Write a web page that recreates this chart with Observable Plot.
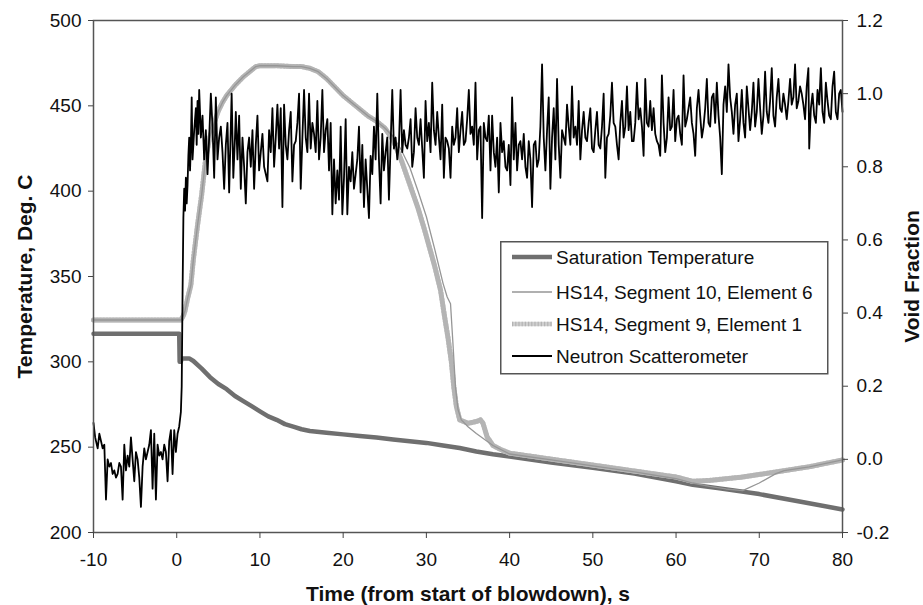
<!DOCTYPE html>
<html>
<head>
<meta charset="utf-8">
<script src="https://cdn.jsdelivr.net/npm/d3@7"></script>
<script src="https://cdn.jsdelivr.net/npm/@observablehq/plot@0.6"></script>
<style>
  html, body { margin: 0; padding: 0; background: #fff; }
  #wrap { position: relative; width: 923px; height: 605px; overflow: hidden; font-family: "Liberation Sans", Arial, sans-serif; }
  #legend { position: absolute; left: 500px; top: 241px; }
</style>
</head>
<body>
<div id="wrap"><div id="chart"></div><svg id="legend" width="329" height="134"></svg></div>
<script>
// ---- axis definitions ----
const xTicks = [-10, 0, 10, 20, 30, 40, 50, 60, 70, 80];
const tempTicks = [200, 250, 300, 350, 400, 450, 500];
const vfTicks = [-0.2, 0.0, 0.2, 0.4, 0.6, 0.8, 1.0, 1.2];
const xTitle = "Time (from start of blowdown), s";
const yTitle = "Temperature, Deg. C";
const y2Title = "Void Fraction";
const legendLabels = ["Saturation Temperature", "HS14, Segment 10, Element 6", "HS14, Segment 9, Element 1", "Neutron Scatterometer"];

// ---- Saturation temperature (deg C) ----
const satTime = [-10, 0.3, 0.35, 0.5, 0.55, 0.6, 1.5, 2, 3, 4, 5, 6, 7, 8, 9, 10, 11, 12, 13, 14, 15, 16, 18, 20, 22, 24, 26, 28, 30, 32, 34, 36, 38, 40, 45, 50, 55, 60, 62, 65, 70, 75, 80];
const satTemp = [316.5, 316.5, 300, 300, 302, 302, 302, 300.5, 296, 291, 287, 284, 280, 277, 274, 271, 268, 266, 263.5, 262, 260.5, 259.5, 258.5, 257.5, 256.5, 255.7, 254.5, 253.5, 252.5, 251, 249.5, 247.5, 245.8, 244.5, 241, 238, 234.5, 230, 228, 226, 222.5, 218, 213.5];

// ---- HS14, Segment 9, Element 1 (deg C) ----
const seg9Time = [-10, 0.5, 0.8, 1.0, 1.3, 1.7, 2.0, 2.5, 3.0, 3.5, 4.0, 4.5, 5.0, 5.5, 6.0, 7, 8, 9, 9.5, 10, 12, 14, 15, 16, 17, 18, 19, 20, 21, 22, 23, 24, 25, 26, 27, 28, 29, 29.8, 31, 31.7, 32.2, 32.6, 33.0, 33.3, 33.6, 34.0, 35.0, 35.5, 36.0, 36.5, 36.8, 37.3, 38, 39, 40, 45, 50, 55, 60, 62, 64, 66, 68, 70, 72, 74, 76, 78, 80];
const seg9Temp = [324.5, 324.5, 327, 330, 337, 345, 360, 380, 398, 420, 432, 440, 447, 452, 456, 462, 467, 471, 473, 473.5, 473.5, 473, 473, 472, 470, 466, 461, 456, 452, 448, 444, 441, 437, 430, 418, 404, 390, 377, 356, 342, 326, 314, 300, 285, 274, 266, 264, 264.5, 265, 266, 264, 256, 251, 248.5, 246.5, 243, 239.5, 236, 232.5, 230, 230.5, 231.5, 232.5, 234, 235.5, 237, 238.5, 240.5, 242.5];

// ---- HS14, Segment 10, Element 6 (deg C) ----
const seg10Time = [-10, 0.5, 0.8, 1.0, 1.3, 1.7, 2.0, 2.5, 3.0, 3.5, 4.0, 4.5, 5.0, 5.5, 6.0, 7, 8, 9, 9.5, 10, 12, 14, 15, 16, 17, 18, 19, 20, 21, 22, 23, 24, 25, 26, 26.5, 27, 28, 29, 30, 31, 32, 32.5, 32.9, 33.2, 33.5, 33.8, 34.2, 35, 36, 37, 38, 39, 40, 45, 50, 55, 60, 62, 64, 66, 68, 70, 72, 73, 74, 76, 78, 80];
const seg10Temp = [324.5, 324.5, 327, 330, 337, 345, 360, 380, 398, 420, 432, 440, 447, 452, 456, 462, 467, 471, 473, 473.5, 473.5, 473, 473, 472, 470, 466, 461, 456, 452, 448, 444, 441, 437, 432, 428, 424, 414, 400, 385, 366, 346, 338, 334, 310, 285, 272, 266, 262, 258, 254.5, 251, 248.5, 246, 242.5, 239, 235.5, 231.5, 229, 227, 225.5, 224.5, 229, 234.5, 236.2, 237, 238.5, 240.5, 242.5];

// ---- Neutron scatterometer (void fraction) ----
const neutronTime = [
-10.0,-9.8,-9.5,-9.3,-9.1,-8.9,-8.7,-8.5,-8.3,-8.1,-7.9,-7.7,-7.5,-7.3,-7.1,-6.9,-6.7,-6.5,-6.3,-6.1,
-5.9,-5.7,-5.5,-5.3,-5.1,-4.9,-4.7,-4.5,-4.3,-4.1,-3.9,-3.7,-3.5,-3.3,-3.1,-2.9,-2.7,-2.5,-2.3,-2.1,
-1.9,-1.7,-1.5,-1.3,-1.1,-0.9,-0.7,-0.5,-0.3,-0.1,0.1,0.3,0.5,0.6,0.7,0.8,0.9,1.0,1.1,1.2,
1.3,1.4,1.5,1.6,1.7,1.8,1.9,2.1,2.3,2.4,2.5,2.6,2.7,2.8,2.9,3.1,3.3,3.5,3.7,3.9,
4.1,4.3,4.5,4.7,4.9,5.1,5.3,5.5,5.7,5.9,6.1,6.3,6.6,6.8,7.0,7.1,7.3,7.5,7.7,7.9,
8.1,8.3,8.5,8.7,8.9,9.1,9.3,9.5,9.7,9.9,10.1,10.3,10.5,10.9,11.1,11.3,11.5,11.7,11.9,12.1,
12.3,12.5,12.7,12.9,13.1,13.3,13.5,13.7,13.9,14.1,14.3,14.5,14.7,14.9,15.1,15.3,15.5,15.7,15.9,16.1,
16.3,16.5,16.7,16.9,17.1,17.3,17.5,17.7,17.9,18.1,18.3,18.5,18.7,18.9,19.1,19.3,19.5,19.7,19.9,20.1,
20.3,20.5,20.7,20.9,21.1,21.3,21.5,21.7,21.9,22.1,22.3,22.5,22.7,22.9,23.1,23.3,23.5,23.7,23.9,24.1,
24.3,24.5,24.7,24.9,25.1,25.3,25.5,25.7,25.9,26.1,26.3,26.5,26.7,26.9,27.1,27.3,27.5,27.7,27.9,28.1,
28.3,28.5,28.7,28.9,29.1,29.3,29.5,29.7,29.9,30.1,30.3,30.5,30.7,30.9,31.1,31.3,31.5,31.7,31.9,32.1,
32.3,32.5,32.7,32.9,33.1,33.3,33.5,33.7,33.9,34.1,34.3,34.5,34.7,34.9,35.1,35.3,35.5,35.7,35.9,36.1,
36.3,36.5,36.7,36.9,37.1,37.3,37.5,37.7,37.9,38.1,38.3,38.5,38.7,38.9,39.1,39.3,39.5,39.7,39.9,40.1,
40.3,40.5,40.7,40.9,41.1,41.3,41.5,41.7,41.9,42.1,42.3,42.5,42.7,42.9,43.1,43.3,43.5,43.7,43.9,44.1,
44.3,44.5,44.7,44.9,45.1,45.3,45.5,45.7,45.9,46.1,46.3,46.5,46.7,46.9,47.1,47.3,47.5,47.7,47.9,48.1,
48.3,48.5,48.7,48.9,49.1,49.3,49.5,49.7,49.9,50.1,50.3,50.5,50.7,50.9,51.1,51.3,51.5,51.7,51.9,52.1,
52.3,52.5,52.7,52.9,53.1,53.3,53.5,53.7,53.9,54.1,54.3,54.5,54.7,54.9,55.1,55.3,55.5,55.7,55.9,56.1,
56.3,56.5,56.7,56.9,57.1,57.3,57.5,57.7,57.9,58.1,58.3,58.5,58.7,58.9,59.1,59.3,59.5,59.7,59.9,60.1,
60.3,60.5,60.7,60.9,61.1,61.3,61.5,61.7,61.9,62.1,62.3,62.5,62.7,62.9,63.1,63.3,63.5,63.7,63.9,64.1,
64.3,64.5,64.7,64.9,65.1,65.3,65.5,65.7,65.9,66.1,66.3,66.5,66.7,66.9,67.1,67.3,67.5,67.7,67.9,68.1,
68.3,68.5,68.7,68.9,69.1,69.3,69.5,69.7,69.9,70.1,70.3,70.5,70.7,70.9,71.1,71.3,71.5,71.7,71.9,72.1,
72.3,72.5,72.7,72.9,73.1,73.3,73.5,73.7,73.9,74.1,74.3,74.5,74.7,74.9,75.1,75.3,75.5,75.7,75.9,76.0,
76.2,76.4,76.6,76.8,77.0,77.2,77.4,77.6,77.8,78.0,78.2,78.4,78.6,78.8,79.0,79.2,79.4,79.6,79.8,80.0];
const neutronVF = [
0.10,0.06,0.03,0.07,0.05,0.03,0.04,-0.11,0.00,-0.02,-0.01,-0.04,-0.03,-0.05,-0.04,-0.01,-0.02,-0.11,0.04,-0.03,
0.01,-0.02,0.06,0.00,-0.06,0.02,0.00,-0.05,-0.13,-0.02,0.03,0.00,0.02,0.04,0.08,-0.08,0.07,-0.11,0.04,0.01,
0.02,0.00,0.04,0.02,-0.06,0.05,0.08,-0.04,0.08,0.02,0.07,0.09,0.13,0.20,0.45,0.66,0.74,0.68,0.77,0.70,
0.75,0.83,0.88,0.79,0.86,0.99,0.82,0.90,0.96,0.86,0.98,0.89,1.01,0.95,0.88,0.94,0.82,0.90,0.78,0.88,
1.00,0.91,0.77,0.99,0.82,0.88,0.91,0.84,0.74,0.86,0.92,0.73,1.00,0.77,0.88,0.95,0.82,0.94,0.74,0.88,
0.80,0.70,0.84,0.88,0.80,0.90,0.74,0.86,0.94,0.79,0.84,0.89,0.80,0.76,0.90,0.84,0.96,0.80,0.88,0.97,
0.85,0.96,0.69,0.97,0.86,0.82,0.90,0.95,0.76,0.86,0.87,0.92,1.00,0.74,0.88,1.01,0.88,0.84,1.00,0.85,
0.92,0.89,0.84,0.98,0.82,0.88,1.01,0.84,0.90,0.93,0.79,0.92,0.67,0.82,0.70,0.79,0.71,0.91,0.67,0.77,
0.93,0.67,0.80,0.76,0.84,0.74,0.78,0.82,0.91,0.73,0.86,0.69,0.82,0.74,0.66,0.83,0.78,0.91,0.82,1.00,
0.82,0.70,0.89,0.79,0.84,0.88,0.71,0.86,1.01,0.85,0.88,0.82,0.86,1.01,0.84,0.90,0.86,0.85,0.88,0.93,
0.80,0.84,0.96,0.88,0.86,0.93,0.85,0.77,0.98,0.87,0.92,0.84,1.03,0.90,0.86,0.95,0.88,0.82,0.97,0.77,
0.88,0.87,0.85,0.77,0.91,0.86,0.88,0.96,0.84,0.90,0.95,0.86,0.87,0.93,1.01,0.89,0.91,0.86,1.03,0.82,
0.90,0.91,0.66,0.92,0.88,0.87,0.94,0.79,0.94,0.84,0.80,0.88,0.73,0.92,0.84,0.87,0.80,0.79,0.86,0.75,
0.99,0.82,0.92,0.79,0.86,0.87,0.82,0.89,0.80,0.77,0.87,0.82,0.69,0.86,0.87,0.80,0.82,0.91,1.08,0.88,
0.79,0.90,0.99,0.74,0.88,0.96,0.82,1.04,0.86,0.77,0.90,0.88,0.86,0.97,0.91,0.86,1.02,0.88,0.91,0.86,
0.98,0.82,0.90,0.95,0.88,0.87,0.92,0.96,0.85,0.84,0.90,0.95,0.86,0.85,0.91,1.00,0.77,0.88,0.89,0.94,
1.03,0.92,0.91,0.86,0.82,0.92,0.98,0.88,0.91,1.02,0.90,0.95,0.87,0.87,0.92,1.03,0.93,0.96,0.91,0.83,
1.04,0.92,0.91,0.98,0.90,0.96,0.89,0.87,0.86,0.83,1.05,0.92,0.84,0.88,0.99,0.90,0.91,1.01,0.87,0.93,
0.94,0.89,0.86,1.05,0.91,0.93,0.96,0.99,0.92,0.89,0.83,0.96,1.01,0.94,0.88,0.91,0.96,1.04,0.92,0.91,
0.99,1.00,0.92,1.03,0.94,0.88,0.78,0.97,1.02,0.95,1.08,0.99,0.95,0.89,0.97,1.00,0.87,0.93,1.01,0.92,
0.88,1.02,0.96,0.90,0.95,1.03,0.91,0.95,1.04,0.96,0.89,0.94,1.06,0.95,0.92,0.98,1.07,0.94,0.91,0.99,
1.04,0.96,0.95,1.00,0.97,0.93,0.98,1.04,0.97,0.99,1.08,0.96,0.98,1.02,1.00,0.97,0.93,1.02,1.07,0.85,
0.96,1.00,0.94,0.92,1.01,0.97,1.07,0.95,0.92,1.03,0.98,0.94,0.93,1.02,1.06,0.95,0.93,1.00,1.01,0.95];

// ---- conversion between the two y axes (void fraction <-> deg C) ----
const T0 = 200, T1 = 500, V0 = -0.2, V1 = 1.2;
const vfToT = v => T0 + (v - V0) * (T1 - T0) / (V1 - V0);
const tToVf = t => V0 + (t - T0) * (V1 - V0) / (T1 - T0);
const fmtVf = t => { const v = Math.round(tToVf(t) * 10) / 10; return (Math.abs(v) < 1e-9 ? 0 : v).toFixed(1); };
const fmtX = d => String(d);

const FONT = '"Liberation Sans", Arial, Helvetica, sans-serif';
const satStyle = {stroke: "#6f6f6f", strokeWidth: 4.5};
const seg10Style = {stroke: "#969696", strokeWidth: 1.3};
const seg9Style = {stroke: "#d0d0d0", strokeWidth: 5};
const seg9Tex = {stroke: "#b4b4b4", strokeWidth: 5, strokeDasharray: "1.2,2"};
const neutronStyle = {stroke: "#000", strokeWidth: 1.8};

const chart = Plot.plot({
  width: 923,
  height: 605,
  marginLeft: 93,
  marginRight: 81,
  marginTop: 20,
  marginBottom: 73,
  style: {fontFamily: FONT, fontSize: "19px", background: "#fff", color: "#111"},
  x: {domain: [-10, 80]},
  y: {domain: [200, 500]},
  marks: [
    Plot.line(satTemp, {x: (d, i) => satTime[i], y: d => d, ...satStyle}),
    Plot.line(seg9Temp, {x: (d, i) => seg9Time[i], y: d => d, ...seg9Style}),
    Plot.line(seg9Temp, {x: (d, i) => seg9Time[i], y: d => d, ...seg9Tex}),
    Plot.line(seg10Temp, {x: (d, i) => seg10Time[i], y: d => d, ...seg10Style}),
    Plot.line(neutronVF, {x: (d, i) => neutronTime[i], y: d => vfToT(d), ...neutronStyle}),
    Plot.frame({stroke: "#555", strokeWidth: 1.5}),
    Plot.axisX({ticks: xTicks, tickFormat: fmtX, tickSize: 6, tickPadding: 14, label: null, stroke: "#444", fontSize: 19}),
    Plot.axisY({anchor: "left", ticks: tempTicks, tickFormat: fmtX, tickSize: 5, tickPadding: 7, label: null, stroke: "#444", fontSize: 19}),
    Plot.axisY({anchor: "right", ticks: vfTicks.map(vfToT), tickFormat: fmtVf, tickSize: 5, tickPadding: 9, label: null, stroke: "#444", fontSize: 19}),
    Plot.text([xTitle], {text: d => d, frameAnchor: "bottom", dy: 68, lineAnchor: "bottom", textAnchor: "middle", fontSize: 21, fontWeight: "bold", fill: "#111"}),
    Plot.text([yTitle], {text: d => d, frameAnchor: "left", dx: -62, rotate: -90, lineAnchor: "bottom", textAnchor: "middle", fontSize: 21, fontWeight: "bold", fill: "#111"}),
    Plot.text([y2Title], {text: d => d, frameAnchor: "right", dx: 76, rotate: -90, lineAnchor: "bottom", textAnchor: "middle", fontSize: 21, fontWeight: "bold", fill: "#111"})
  ]
});
document.getElementById("chart").appendChild(chart);

// ---- legend box ----
const lg = d3.select("#legend");
lg.append("rect").attr("x", 0.75).attr("y", 0.75).attr("width", 327).attr("height", 132)
  .attr("fill", "#fff").attr("stroke", "#555").attr("stroke-width", 1.5);
const legendStyles = [[satStyle], [seg10Style], [seg9Style, seg9Tex], [neutronStyle]];
const rowY = [16, 51, 83, 115];
legendLabels.forEach((label, i) => {
  legendStyles[i].forEach(s => {
    lg.append("line").attr("x1", 12).attr("x2", 52).attr("y1", rowY[i]).attr("y2", rowY[i])
      .attr("stroke", s.stroke).attr("stroke-width", Math.min(s.strokeWidth, 4.5))
      .attr("stroke-dasharray", s.strokeDasharray || null);
  });
  lg.append("text").attr("x", 56).attr("y", rowY[i]).attr("dy", "0.36em")
    .attr("font-family", FONT).attr("font-size", 19).attr("fill", "#111").text(label);
});
</script>
</body>
</html>
